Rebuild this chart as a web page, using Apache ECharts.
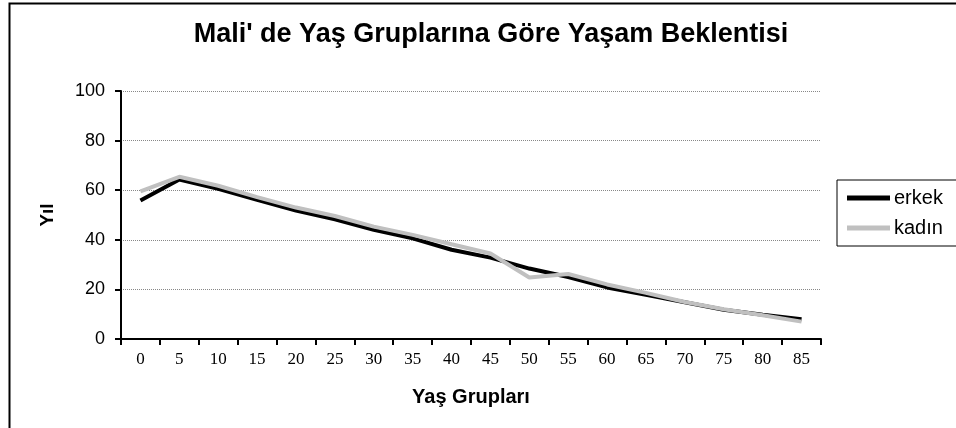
<!DOCTYPE html>
<html>
<head>
<meta charset="utf-8">
<script src="https://cdn.jsdelivr.net/npm/echarts@6/dist/echarts.min.js"></script>
<style>
  html, body { margin: 0; padding: 0; background: #fff; }
  #chart { width: 956px; height: 428px; }
</style>
</head>
<body>
<div id="chart"></div>
<script>
// age groups
var ageGroups = ['0', '5', '10', '15', '20', '25', '30', '35', '40', '45', '50', '55', '60', '65', '70', '75', '80', '85'];
// life expectancy, men
var erkek = [55.8, 64.3, 60.6, 56.1, 51.8, 48.3, 44.0, 40.6, 36.0, 32.8, 28.4, 25.0, 20.8, 17.8, 14.8, 11.8, 9.8, 8.0];
// life expectancy, women
var kadin = [59.5, 65.4, 61.8, 57.2, 53.0, 49.6, 45.3, 42.0, 38.2, 34.5, 24.8, 26.2, 22.0, 18.6, 14.9, 12.0, 9.6, 7.0];

var chart = echarts.init(document.getElementById('chart'));

chart.setOption({
    animation: false,
    backgroundColor: '#fff',
    title: {
        text: "Mali' de Yaş Gruplarına Göre Yaşam Beklentisi",
        left: 486,
        top: 16,
        textAlign: 'center',
        textStyle: {
            fontFamily: 'Liberation Sans',
            fontWeight: 'bold',
            fontSize: 27,
            color: '#000'
        }
    },
    legend: {
        orient: 'vertical',
        left: 837,
        top: 180,
        padding: [8, 20, 8, 10],
        borderColor: '#000',
        borderWidth: 1,
        itemGap: 10,
        itemWidth: 43,
        itemHeight: 5,
        icon: 'rect',
        textStyle: { fontFamily: 'Liberation Sans', fontSize: 20, color: '#000', padding: [0, 0, 0, -1] },
        data: ['erkek', 'kadın']
    },
    grid: {
        left: 121,
        right: 135,
        top: 91,
        bottom: 89
    },
    xAxis: {
        type: 'category',
        data: ageGroups,
        boundaryGap: true,
        name: 'Yaş Grupları',
        nameLocation: 'middle',
        nameGap: 48,
        nameTextStyle: { fontFamily: 'Liberation Sans', fontWeight: 'bold', fontSize: 20, color: '#000' },
        axisLine: { lineStyle: { color: '#000', width: 2 } },
        axisTick: { show: true, inside: false, length: 6, lineStyle: { color: '#000', width: 2 } },
        axisLabel: { fontFamily: 'Liberation Serif', fontSize: 17, color: '#000', margin: 12 }
    },
    yAxis: {
        type: 'value',
        min: 0,
        max: 100,
        interval: 20,
        name: 'Yıl',
        nameLocation: 'middle',
        nameRotate: 90,
        nameGap: 64,
        nameTextStyle: { fontFamily: 'Liberation Sans', fontWeight: 'bold', fontSize: 19, color: '#000' },
        axisLine: { show: true, lineStyle: { color: '#000', width: 2 } },
        axisTick: { show: true, length: 6, lineStyle: { color: '#000', width: 2 } },
        axisLabel: { fontFamily: 'Liberation Sans', fontSize: 18, color: '#000', margin: 16 },
        splitLine: { show: true, lineStyle: { color: '#888', type: 'dotted', width: 1 } }
    },
    series: [
        {
            name: 'erkek',
            type: 'line',
            data: erkek,
            symbol: 'none',
            color: '#000',
            lineStyle: { color: '#000', width: 4 },
            z: 2
        },
        {
            name: 'kadın',
            type: 'line',
            data: kadin,
            symbol: 'none',
            color: '#c0c0c0',
            lineStyle: { color: '#c0c0c0', width: 4 },
            z: 3
        }
    ],
    graphic: [
        {
            type: 'rect',
            left: 7,
            top: 1,
            shape: { width: 960, height: 440 },
            style: { fill: null, stroke: '#000', lineWidth: 2 },
            silent: true
        }
    ]
});
</script>
</body>
</html>
